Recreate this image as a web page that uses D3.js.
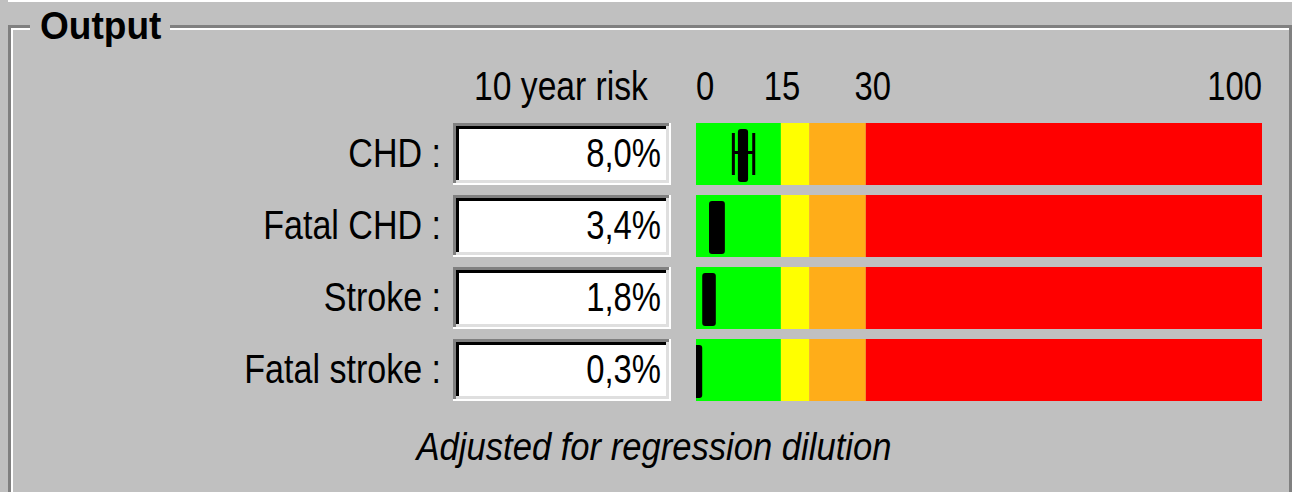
<!DOCTYPE html>
<html>
<head>
<meta charset="utf-8">
<script src="https://cdn.jsdelivr.net/npm/d3@7"></script>
<style>
  html, body { margin: 0; padding: 0; background: #c0c0c0; }
  svg { display: block; }
  text { font-family: "Liberation Sans", Arial, sans-serif; fill: #000; }
</style>
</head>
<body>
<svg id="chart" width="1292" height="492"></svg>
<script>
// risk output rows
const rowLabels = ["CHD :", "Fatal CHD :", "Stroke :", "Fatal stroke :"];
const riskValues = [8.0, 3.4, 1.8, 0.3];
// extent of the black marker and of the whiskers, in % risk
const markerLo = [7.4, 2.3, 1.1, 0];
const markerHi = [9.2, 5.1, 3.5, 1.1];
const whiskerLo = [6.6, null, null, null];
const whiskerHi = [10.2, null, null, null];
// colour zones
const zoneBreaks = [0, 15, 20, 30, 100];
const zoneColors = ["#00ff00", "#ffff00", "#ffad19", "#ff0000"];
const tickValues = [0, 15, 30, 100];

const W = 1292, H = 492;
const svg = d3.select("#chart");

const locale = d3.formatLocale({ decimal: ",", thousands: ".", grouping: [3], currency: ["", ""] });
const fmt = locale.format(".1f");

const x = d3.scaleLinear().domain([0, 100]).range([696, 1262]);
const y = d3.scaleBand().domain(rowLabels).range([123, 401]).paddingInner(10 / 72).paddingOuter(0);

// squeeze text horizontally (old bitmap font is narrow)
function squeeze(sel, k) {
  sel.each(function () {
    const len = this.getComputedTextLength();
    d3.select(this).attr("textLength", len * k).attr("lengthAdjust", "spacingAndGlyphs");
  });
}

// group box frame
const frame = svg.append("g");
frame.append("rect").attr("x", 8).attr("y", 0).attr("width", W - 8).attr("height", 2).attr("fill", "#fff");
frame.append("rect").attr("x", 8).attr("y", 25).attr("width", 3).attr("height", H - 25).attr("fill", "#808080");
frame.append("rect").attr("x", 11).attr("y", 28).attr("width", 2).attr("height", H - 28).attr("fill", "#fff");
frame.append("rect").attr("x", 8).attr("y", 25).attr("width", 22).attr("height", 3).attr("fill", "#808080");
frame.append("rect").attr("x", 11).attr("y", 28).attr("width", 19).attr("height", 2).attr("fill", "#fff");
frame.append("rect").attr("x", 170).attr("y", 25).attr("width", 1289 - 170).attr("height", 3).attr("fill", "#808080");
frame.append("rect").attr("x", 170).attr("y", 28).attr("width", 1289 - 170).attr("height", 2).attr("fill", "#fff");
frame.append("rect").attr("x", 1289).attr("y", 25).attr("width", 3).attr("height", H - 25).attr("fill", "#808080");

frame.append("text")
  .attr("x", 40).attr("y", 39)
  .attr("style", "font-size: 39px; font-weight: bold;")
  .text("Output")
  .call(squeeze, 0.95);

// headers
svg.append("text")
  .attr("x", 561).attr("y", 100)
  .attr("text-anchor", "middle")
  .attr("style", "font-size: 41px;")
  .text("10 year risk")
  .call(squeeze, 0.82);

svg.append("g")
  .selectAll("text")
  .data(tickValues)
  .join("text")
  .attr("x", d => x(d))
  .attr("dx", d => d === 30 ? 7 : d === 15 ? 1 : 0)
  .attr("y", 100)
  .attr("text-anchor", (d, i) => i === 0 ? "start" : i === tickValues.length - 1 ? "end" : "middle")
  .attr("style", "font-size: 41px;")
  .text(d => d)
  .call(squeeze, 0.8);

const rows = svg.append("g")
  .selectAll("g")
  .data(rowLabels.map((label, i) => ({
    label, value: riskValues[i], lo: markerLo[i], hi: markerHi[i], wlo: whiskerLo[i], whi: whiskerHi[i]
  })))
  .join("g")
  .attr("transform", d => `translate(0,${y(d.label)})`);

const bh = y.bandwidth();

rows.append("text")
  .attr("x", 441).attr("y", bh / 2 + 13)
  .attr("text-anchor", "end")
  .attr("style", "font-size: 41px;")
  .text(d => d.label)
  .call(squeeze, 0.83);

// sunken edit field
const bx0 = 453, bx1 = 671;
rows.append("rect").attr("x", bx0).attr("y", 0).attr("width", bx1 - bx0).attr("height", bh).attr("fill", "#fff");
rows.append("rect").attr("x", bx0).attr("y", 0).attr("width", bx1 - bx0 - 2).attr("height", bh - 2).attr("fill", "#dfdfdf");
rows.append("rect").attr("x", bx0).attr("y", 0).attr("width", bx1 - bx0 - 2).attr("height", 3).attr("fill", "#808080");
rows.append("rect").attr("x", bx0).attr("y", 0).attr("width", 3).attr("height", bh - 2).attr("fill", "#808080");
rows.append("rect").attr("x", bx0 + 3).attr("y", 3).attr("width", bx1 - bx0 - 8).attr("height", bh - 8).attr("fill", "#000");
rows.append("rect").attr("x", bx0 + 6).attr("y", 6).attr("width", bx1 - bx0 - 11).attr("height", bh - 11).attr("fill", "#fff");

rows.append("text")
  .attr("x", 661).attr("y", bh / 2 + 13)
  .attr("text-anchor", "end")
  .attr("style", "font-size: 41px;")
  .text(d => fmt(d.value) + "%")
  .call(squeeze, 0.8);

// colour zones
rows.selectAll("rect.zone")
  .data(zoneColors.map((c, i) => ({ c, a: zoneBreaks[i], b: zoneBreaks[i + 1] })))
  .join("rect")
  .attr("class", "zone")
  .attr("x", d => x(d.a))
  .attr("y", 0)
  .attr("width", d => x(d.b) - x(d.a))
  .attr("height", bh)
  .attr("fill", d => d.c);

svg.append("defs").append("clipPath").attr("id", "barclip")
  .append("rect").attr("x", x(0)).attr("y", 0).attr("width", x(100) - x(0)).attr("height", bh);

const mk = rows.append("g").attr("clip-path", "url(#barclip)");

// whiskers (only where given)
const wk = mk.filter(d => d.wlo != null);
wk.append("rect").attr("x", d => x(d.wlo) - 1.5).attr("y", 10).attr("width", 3).attr("height", bh - 20).attr("fill", "#000");
wk.append("rect").attr("x", d => x(d.whi) - 1.5).attr("y", 10).attr("width", 3).attr("height", bh - 20).attr("fill", "#000");
wk.append("rect").attr("x", d => x(d.wlo)).attr("y", bh / 2 - 3).attr("width", d => x(d.whi) - x(d.wlo)).attr("height", 3).attr("fill", "#000");

mk.append("rect")
  .attr("x", d => x(d.lo) - (d.lo === 0 ? 4 : 0))
  .attr("y", 6)
  .attr("width", d => x(d.hi) - x(d.lo) + (d.lo === 0 ? 4 : 0))
  .attr("height", bh - 9)
  .attr("rx", 3)
  .attr("fill", "#000");

// footnote
svg.append("text")
  .attr("x", 654).attr("y", 460)
  .attr("text-anchor", "middle")
  .attr("style", "font-size: 39px; font-style: italic;")
  .attr("textLength", 475)
  .attr("lengthAdjust", "spacingAndGlyphs")
  .text("Adjusted for regression dilution");
</script>
</body>
</html>
